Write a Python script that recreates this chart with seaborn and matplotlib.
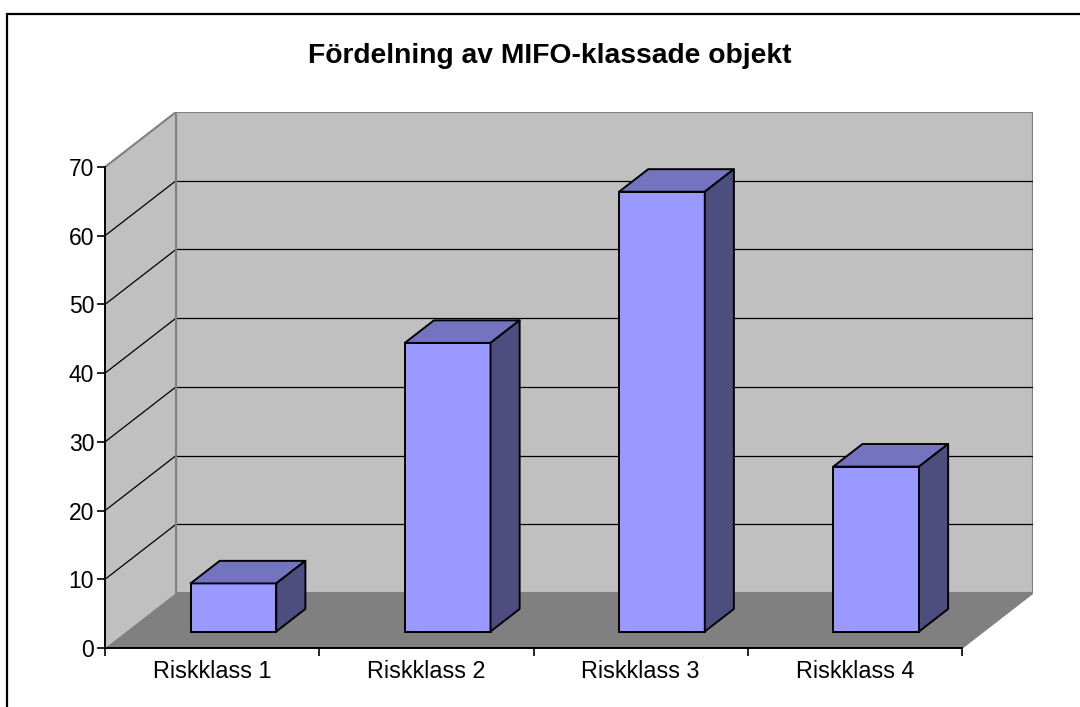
import numpy as np
import matplotlib
matplotlib.use("Agg")
import matplotlib.pyplot as plt
from matplotlib.patches import Polygon, Rectangle
import seaborn as sns
import pandas as pd

# ---- data ----
categories = ["Riskklass 1", "Riskklass 2", "Riskklass 3", "Riskklass 4"]
values = [7, 42, 64, 24]
yticks = [0, 10, 20, 30, 40, 50, 60, 70]
title = "Fördelning av MIFO-klassade objekt"

sns.set_theme(style="white")
plt.rcParams['font.family'] = ['Liberation Sans', 'DejaVu Sans']

W, H = 1080, 707
fig = plt.figure(figsize=(W / 100, H / 100), dpi=100)
fig.patch.set_facecolor("white")

# front plane mapping (pixels)
x_left_px, x_right_px = 105, 962
y0_px, y70_px = 648, 167
ppx = (x_right_px - x_left_px) / len(categories)   # pixels per category
ppy = (y0_px - y70_px) / yticks[-1]                # pixels per unit
DX = 71 / ppx      # depth shift in data units
DY = 55 / ppy
xmin = -0.5
xmax = xmin + (x_right_px + 71 - x_left_px) / ppx
ymax = (y0_px - (y70_px - 55)) / ppy

ax = fig.add_axes([x_left_px / W, (H - y0_px) / H,
                   (x_right_px + 71 - x_left_px) / W, (y0_px - (y70_px - 55)) / H])
ax.set_facecolor("none")

n = len(categories)
xr = n - 0.5
ytop = yticks[-1]
wall = "#C0C0C0"
floor = "#808080"
border = "#808080"

# walls and floor
ax.add_patch(Polygon([(xmin + DX, DY), (xr + DX, DY), (xr + DX, ytop + DY), (xmin + DX, ytop + DY)],
                     closed=True, fc=wall, ec=border, lw=1.5, zorder=0))
ax.add_patch(Polygon([(xmin, 0), (xmin + DX, DY), (xmin + DX, ytop + DY), (xmin, ytop)],
                     closed=True, fc=wall, ec="none", lw=0, zorder=0))
ax.plot([xmin, xmin + DX], [ytop, ytop + DY], color=border, lw=1.5, zorder=1)
ax.add_patch(Polygon([(xmin, 0), (xr, 0), (xr + DX, DY), (xmin + DX, DY)],
                     closed=True, fc=floor, ec="none", zorder=1))
ax.plot([xr, xr + DX], [0, DY], color=border, lw=1.2, zorder=1)

# gridlines
for v in yticks[1:-1]:
    ax.plot([xmin + DX, xr + DX], [v + DY, v + DY], color="black", lw=0.9, zorder=1)
    ax.plot([xmin, xmin + DX], [v, v + DY], color="black", lw=0.9, zorder=1)
ax.plot([xmin + DX, xmin + DX], [DY, ytop + DY], color=border, lw=1.5, zorder=1)

# bars
df = pd.DataFrame({"cat": categories, "val": values})
sns.barplot(data=df, x="cat", y="val", color="#9999FF", width=0.4, saturation=1,
            edgecolor="black", linewidth=1.4, ax=ax, zorder=3)

f0 = 0.30
fd = 0.41
bx, by = f0 * DX, f0 * DY
ddx, ddy = fd * DX, fd * DY
for p in ax.patches:
    if not isinstance(p, Rectangle):
        continue
    if p.get_facecolor()[:3] == matplotlib.colors.to_rgb("#9999FF"):
        p.set_x(p.get_x() + bx)
        p.set_y(p.get_y() + by)
        x0 = p.get_x(); x1 = x0 + p.get_width()
        y0 = p.get_y(); y1 = y0 + p.get_height()
        ax.add_patch(Polygon([(x0, y1), (x1, y1), (x1 + ddx, y1 + ddy), (x0 + ddx, y1 + ddy)],
                             closed=True, fc="#7373C0", ec="black", lw=1.4, zorder=3, joinstyle="round"))
        ax.add_patch(Polygon([(x1, y0), (x1 + ddx, y0 + ddy), (x1 + ddx, y1 + ddy), (x1, y1)],
                             closed=True, fc="#4D4D80", ec="black", lw=1.4, zorder=3, joinstyle="round"))

ax.set_xlim(xmin, xmax)
ax.set_ylim(0, ymax)

# axes styling
for s in ["top", "right"]:
    ax.spines[s].set_visible(False)
ax.spines["left"].set_bounds(0, ytop)
ax.spines["bottom"].set_bounds(xmin, xr)
for s in ["left", "bottom"]:
    ax.spines[s].set_color("black")
    ax.spines[s].set_linewidth(1.4)
    ax.spines[s].set_zorder(5)

ax.set_yticks(yticks)
ax.set_yticklabels([str(v) for v in yticks], fontsize=16.5)
ax.tick_params(axis="y", direction="out", length=5.8, width=1.2, color="black", pad=2,
               left=True, labelcolor="black")

ax.set_xticks(np.arange(-0.5, n, 1.0))
ax.set_xticklabels([])
ax.set_xticks(np.arange(n), minor=True)
ax.set_xticklabels(categories, minor=True, fontsize=16.8)
ax.tick_params(axis="x", which="major", direction="out", length=5.5, width=1.2, color="black",
               bottom=True)
ax.tick_params(axis="x", which="minor", length=0, pad=9, labelcolor="black")
ax.set_xlabel("")
ax.set_ylabel("")
ax.grid(False)

fig.text(550 / W, 1 - 56 / H, title, ha="center", va="center", fontsize=20.3,
         fontweight="bold", color="black")

fig.add_artist(Rectangle((6.5 / W, -0.05), 1.2, 1 - 13.5 / H + 0.05, transform=fig.transFigure,
                         fill=False, ec="black", lw=1.6, clip_on=False))

fig.savefig("out.png", dpi=100, facecolor="white")
